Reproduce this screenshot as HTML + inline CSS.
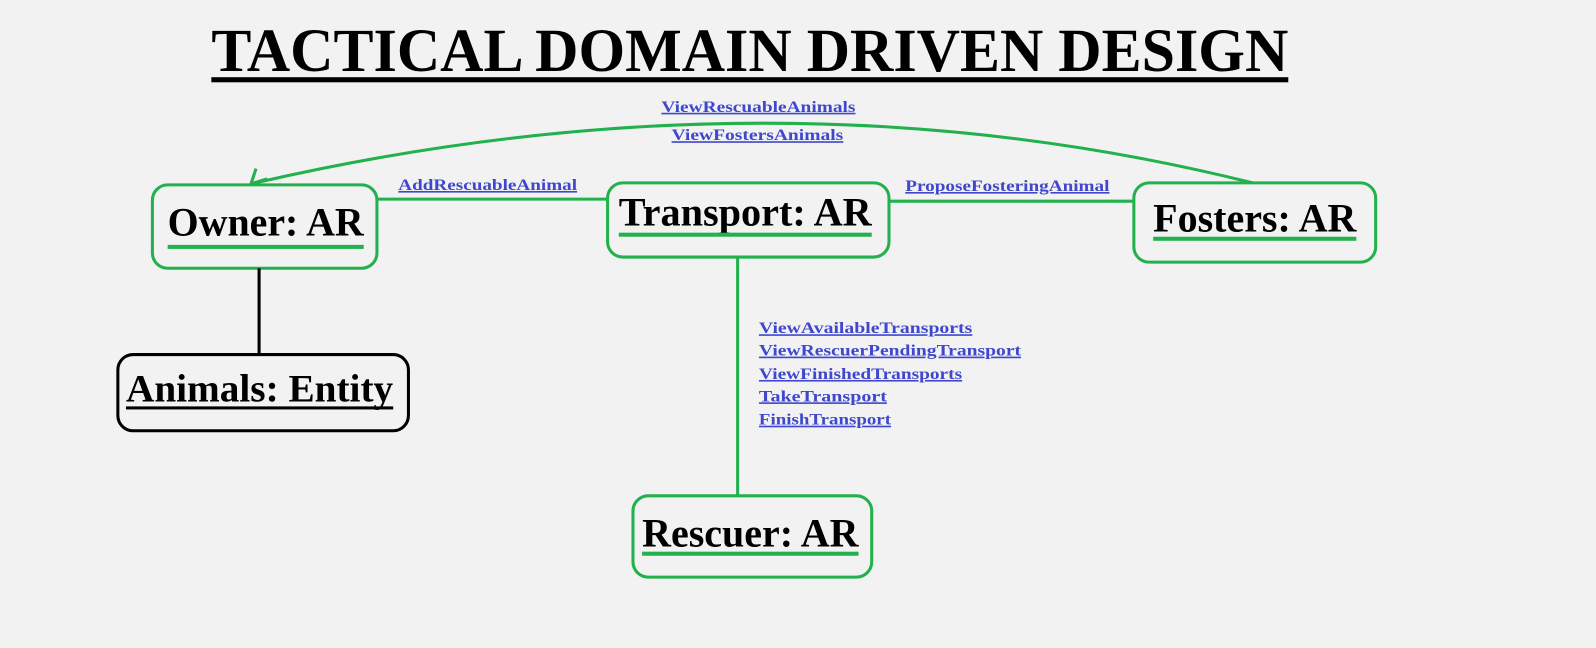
<!DOCTYPE html>
<html><head><meta charset="utf-8"><style>
html,body{margin:0;padding:0;background:#f2f2f2;}
svg{display:block;}
.t{font-family:"Liberation Serif",serif;font-weight:bold;}
.l{font-family:"Liberation Serif",serif;font-weight:bold;font-size:16px;fill:#3f48cc;text-decoration:underline;}
</style></head><body>
<svg width="1596" height="648" viewBox="0 0 1596 648" xmlns="http://www.w3.org/2000/svg">
<rect width="1596" height="648" fill="#f2f2f2"/>
<g transform="scale(1.016)">
<text class="t" x="208" y="70" font-size="60" textLength="1060" lengthAdjust="spacingAndGlyphs">TACTICAL DOMAIN DRIVEN DESIGN</text>
<rect x="208" y="76" width="1060" height="5" fill="#000"/>

<g fill="none" stroke="#22b14c" stroke-width="3">
<path d="M1233,180 Q760,62 247,181"/>
<path d="M247,181 L252,166 M247,181 L263,176"/>
<line x1="371" y1="196" x2="598" y2="196"/>
<line x1="875" y1="198" x2="1116" y2="198"/>
<line x1="726" y1="253" x2="726" y2="488"/>
<rect x="150" y="182" width="221" height="82" rx="15"/>
<rect x="598" y="180" width="277" height="73" rx="15"/>
<rect x="1116" y="180" width="238" height="78" rx="15"/>
<rect x="623" y="488" width="235" height="80" rx="15"/>
</g>
<line x1="255" y1="264" x2="255" y2="349" stroke="#000" stroke-width="3"/>
<rect x="116" y="349" width="286" height="75" rx="15" fill="none" stroke="#000" stroke-width="3"/>

<text class="t" x="165" y="232" font-size="40" textLength="193" lengthAdjust="spacingAndGlyphs">Owner: AR</text>
<rect x="165" y="241" width="193" height="4" fill="#22b14c"/>
<text class="t" x="609" y="222" font-size="40" textLength="249" lengthAdjust="spacingAndGlyphs">Transport: AR</text>
<rect x="609" y="229" width="249" height="4" fill="#22b14c"/>
<text class="t" x="1135" y="228" font-size="40" textLength="200" lengthAdjust="spacingAndGlyphs">Fosters: AR</text>
<rect x="1135" y="233" width="200" height="4" fill="#22b14c"/>
<text class="t" x="632" y="538" font-size="40" textLength="213" lengthAdjust="spacingAndGlyphs">Rescuer: AR</text>
<rect x="632" y="543" width="213" height="4" fill="#22b14c"/>
<text class="t" x="124" y="395" font-size="39" textLength="263" lengthAdjust="spacingAndGlyphs">Animals: Entity</text>
<rect x="124" y="400" width="263" height="3" fill="#000"/>

<text class="l" x="651" y="110" textLength="191" lengthAdjust="spacingAndGlyphs">ViewRescuableAnimals</text>
<text class="l" x="661" y="138" textLength="169" lengthAdjust="spacingAndGlyphs">ViewFostersAnimals</text>
<text class="l" x="392" y="187" textLength="176" lengthAdjust="spacingAndGlyphs">AddRescuableAnimal</text>
<text class="l" x="891" y="188" textLength="201" lengthAdjust="spacingAndGlyphs">ProposeFosteringAnimal</text>
<text class="l" x="747" y="328" textLength="210" lengthAdjust="spacingAndGlyphs">ViewAvailableTransports</text>
<text class="l" x="747" y="350" textLength="258" lengthAdjust="spacingAndGlyphs">ViewRescuerPendingTransport</text>
<text class="l" x="747" y="373" textLength="200" lengthAdjust="spacingAndGlyphs">ViewFinishedTransports</text>
<text class="l" x="747" y="395" textLength="126" lengthAdjust="spacingAndGlyphs">TakeTransport</text>
<text class="l" x="747" y="418" textLength="130" lengthAdjust="spacingAndGlyphs">FinishTransport</text>
</g>
</svg>
</body></html>
